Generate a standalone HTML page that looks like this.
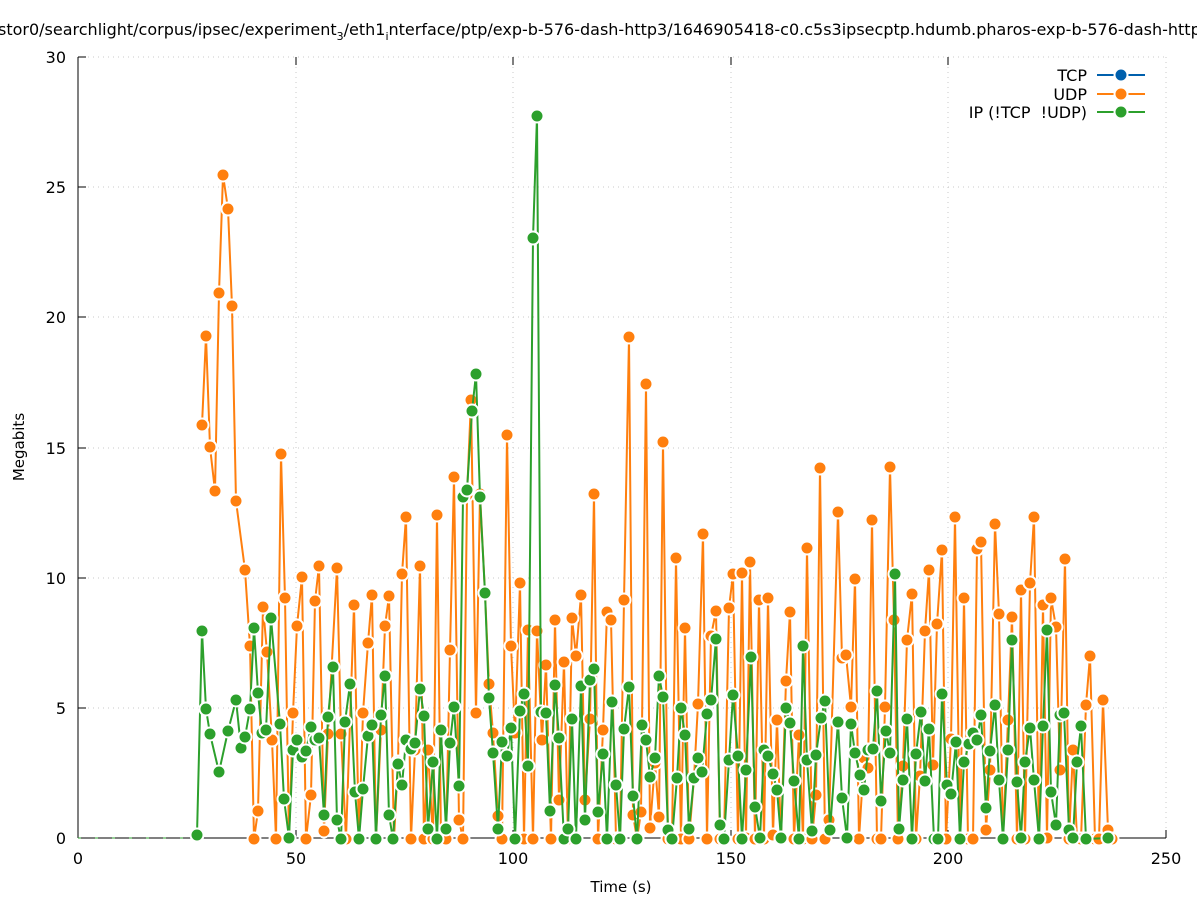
<!DOCTYPE html>
<html><head><meta charset="utf-8"><style>
html,body{margin:0;padding:0;background:#fff;}
svg{display:block;font-family:"DejaVu Sans","Liberation Sans",sans-serif;}
</style></head><body>
<svg width="1197" height="900" viewBox="0 0 1197 900" xmlns="http://www.w3.org/2000/svg">
<defs>
<marker id="mo" markerUnits="userSpaceOnUse" markerWidth="18" markerHeight="18" refX="9" refY="9" overflow="visible"><circle cx="9" cy="9" r="6.5" fill="#ff7f0e" stroke="#fff" stroke-width="2"/></marker>
<marker id="mg" markerUnits="userSpaceOnUse" markerWidth="18" markerHeight="18" refX="9" refY="9" overflow="visible"><circle cx="9" cy="9" r="6.5" fill="#2ca02c" stroke="#fff" stroke-width="2"/></marker>
</defs>
<rect width="1197" height="900" fill="#fff"/>
<text x="-2" y="35" font-size="16" fill="#000">stor0/searchlight/corpus/ipsec/experiment<tspan font-size="11" dy="5">3</tspan><tspan dy="-5">/eth1</tspan><tspan font-size="11" dy="5">i</tspan><tspan dy="-5">nterface/ptp/exp-b-576-dash-http3/1646905418-c0.c5s3ipsecptp.hdumb.pharos-exp-b-576-dash-http3</tspan></text>
<g stroke="#c8c8c8" stroke-width="1" stroke-dasharray="1,4">
<line x1="78" y1="57" x2="1166" y2="57"/><line x1="78" y1="187" x2="1166" y2="187"/><line x1="78" y1="317" x2="1166" y2="317"/><line x1="78" y1="448" x2="1166" y2="448"/><line x1="78" y1="578" x2="1166" y2="578"/><line x1="78" y1="708" x2="1166" y2="708"/>
<line x1="296" y1="57" x2="296" y2="838"/><line x1="513" y1="57" x2="513" y2="838"/><line x1="731" y1="57" x2="731" y2="838"/><line x1="948" y1="57" x2="948" y2="838"/><line x1="1166" y1="57" x2="1166" y2="838"/>
</g>
<g stroke="#000" stroke-width="1">
<line x1="78" y1="57" x2="78" y2="838"/><line x1="78" y1="838" x2="1166" y2="838"/>
<line x1="78" y1="57" x2="86" y2="57"/><line x1="78" y1="187" x2="86" y2="187"/><line x1="78" y1="317" x2="86" y2="317"/><line x1="78" y1="448" x2="86" y2="448"/><line x1="78" y1="578" x2="86" y2="578"/><line x1="78" y1="708" x2="86" y2="708"/>
<line x1="296" y1="838" x2="296" y2="830"/><line x1="513" y1="838" x2="513" y2="830"/><line x1="731" y1="838" x2="731" y2="830"/><line x1="948" y1="838" x2="948" y2="830"/><line x1="1166" y1="838" x2="1166" y2="830"/>
<line x1="296" y1="57" x2="296" y2="65"/><line x1="513" y1="57" x2="513" y2="65"/><line x1="731" y1="57" x2="731" y2="65"/><line x1="948" y1="57" x2="948" y2="65"/>
</g>
<g font-size="16" fill="#000" text-anchor="end">
<text x="66" y="844">0</text><text x="66" y="714">5</text><text x="66" y="584">10</text><text x="66" y="454">15</text><text x="66" y="323">20</text><text x="66" y="193">25</text><text x="66" y="63">30</text>
</g>
<g font-size="16" fill="#000" text-anchor="middle">
<text x="78" y="864">0</text><text x="296" y="864">50</text><text x="513" y="864">100</text><text x="731" y="864">150</text><text x="948" y="864">200</text><text x="1166" y="864">250</text>
<text x="621" y="892" font-size="15">Time (s)</text>
</g>
<text transform="translate(24,447) rotate(-90)" font-size="15" text-anchor="middle">Megabits</text>
<line x1="78" y1="838" x2="197" y2="838" stroke="#2ca02c" stroke-width="1" stroke-dasharray="3,14"/>
<polyline fill="none" stroke="#ff7f0e" stroke-width="2" stroke-linejoin="round" marker-start="url(#mo)" marker-mid="url(#mo)" marker-end="url(#mo)" points="202,425 206,336 210,447 215,491 219,293 223,175 228,209 232,306 236,501 245,570 250,646 254,839 258,811 263,607 267,652 272,740 276,839 281,454 285,598 289,839 293,713 297,626 302,577 306,839 311,795 315,601 319,566 324,831 328,734 337,568 341,734 346,839 354,605 359,839 363,713 368,643 372,595 376,839 381,730 385,626 389,596 394,839 398,762 402,574 406,517 411,839 415,750 420,566 424,839 428,750 433,839 437,515 441,839 446,839 450,650 454,477 459,820 463,839 467,495 471,400 476,713 480,494 485,593 489,684 493,733 498,816 502,839 507,435 511,646 515,733 520,583 524,839 528,630 533,839 537,631 542,740 546,665 551,839 555,620 559,800 564,662 568,839 572,618 576,656 581,595 585,800 590,719 594,494 598,839 603,730 607,612 611,620 616,839 620,838 624,600 629,337 633,815 637,839 641,812 646,384 650,828 655,763 659,817 663,442 668,839 672,839 676,558 681,839 685,628 689,839 694,778 698,704 703,534 707,839 711,636 716,611 720,839 724,839 729,608 733,574 738,839 742,573 746,838 750,562 755,839 759,600 764,839 768,598 773,835 777,720 781,839 786,681 790,612 794,839 799,735 803,839 807,548 812,839 816,795 820,468 825,839 829,820 838,512 842,658 846,655 851,707 855,579 859,839 864,758 868,768 872,520 877,839 881,839 885,707 890,467 894,620 898,839 903,766 907,640 912,594 916,839 920,776 925,631 929,570 933,765 937,624 942,550 946,839 951,739 955,517 960,839 964,598 968,839 973,839 977,549 981,542 986,830 990,770 995,524 999,614 1003,839 1008,720 1012,617 1017,839 1021,590 1025,839 1030,583 1034,517 1039,839 1043,605 1047,838 1051,598 1056,627 1060,770 1065,559 1069,839 1073,750 1077,839 1081,839 1086,705 1090,656 1095,839 1099,839 1103,700 1108,830 1112,839"/>
<polyline fill="none" stroke="#2ca02c" stroke-width="2" stroke-linejoin="round" marker-start="url(#mg)" marker-mid="url(#mg)" marker-end="url(#mg)" points="197,835 202,631 206,709 210,734 219,772 228,731 236,700 241,748 245,737 250,709 254,628 258,693 262,733 266,730 271,618 280,724 284,799 289,838 293,750 297,740 302,757 306,751 311,727 315,740 319,738 324,815 328,717 333,667 337,820 341,839 345,722 350,684 355,792 359,839 363,789 368,736 372,725 376,839 381,715 385,676 389,815 393,839 398,764 402,785 406,740 411,749 415,743 420,689 424,716 428,829 433,762 437,839 441,730 446,829 450,743 454,707 459,786 463,497 467,490 472,411 476,374 480,497 485,593 489,698 493,753 498,829 502,742 507,756 511,728 515,839 520,711 524,694 528,766 533,238 537,116 541,712 546,713 550,811 555,685 559,738 564,839 568,829 572,719 576,839 581,686 585,820 590,680 594,669 598,812 603,754 607,839 612,702 616,785 620,839 624,729 629,687 633,796 637,839 642,725 646,740 650,777 655,758 659,676 663,697 668,830 672,839 677,778 681,708 685,735 689,829 694,778 698,758 702,772 707,714 711,700 716,639 720,825 724,839 729,760 733,695 738,756 742,839 746,770 751,657 755,807 760,838 764,750 768,756 773,774 777,790 781,838 786,708 790,723 794,781 799,839 803,646 807,760 812,831 816,755 821,718 825,701 830,830 838,722 842,798 847,838 851,724 855,753 860,775 864,790 868,750 873,749 877,691 881,801 886,731 890,753 895,574 899,829 903,780 907,719 912,839 916,754 921,712 925,781 929,729 934,839 938,839 942,694 947,785 951,794 956,742 960,839 964,762 969,744 973,733 977,740 981,715 986,808 990,751 995,705 999,780 1003,839 1008,750 1012,640 1017,782 1021,838 1025,762 1030,728 1034,780 1039,839 1043,726 1047,630 1051,792 1056,825 1060,715 1064,713 1069,830 1073,838 1077,762 1081,726 1086,839 1108,838"/>
<g font-size="16" fill="#000" text-anchor="end">
<text x="1087" y="81">TCP</text><text x="1087" y="100">UDP</text><text x="1087" y="118">IP (!TCP&#160; !UDP)</text>
</g>
<g stroke-width="2">
<line x1="1097" y1="75" x2="1145" y2="75" stroke="#0060ad"/><circle cx="1121" cy="75" r="6.5" fill="#0060ad" stroke="#fff" stroke-width="2"/>
<line x1="1097" y1="94" x2="1145" y2="94" stroke="#ff7f0e"/><circle cx="1121" cy="94" r="6.5" fill="#ff7f0e" stroke="#fff" stroke-width="2"/>
<line x1="1097" y1="112" x2="1145" y2="112" stroke="#2ca02c"/><circle cx="1121" cy="112" r="6.5" fill="#2ca02c" stroke="#fff" stroke-width="2"/>
</g>
</svg>
</body></html>
